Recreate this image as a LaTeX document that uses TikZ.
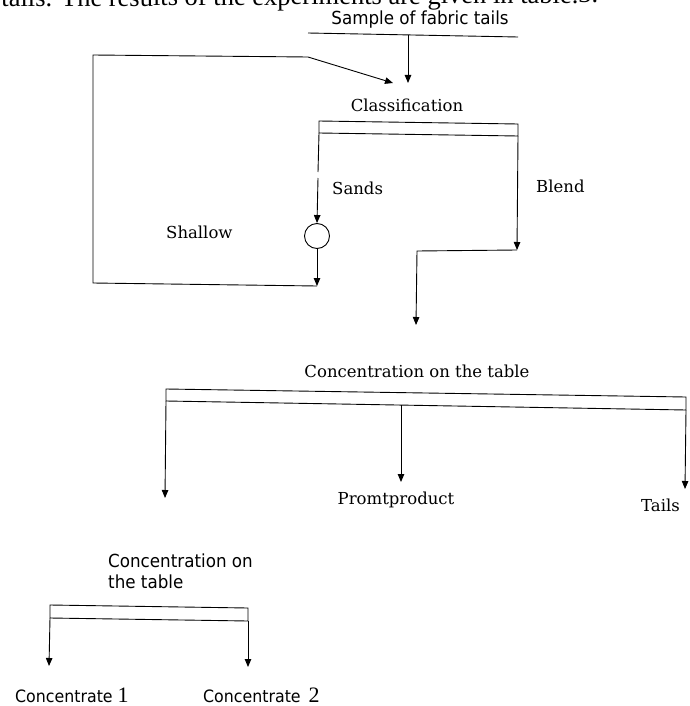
\documentclass[tikz,border=0pt]{standalone}
\usepackage{fontspec}
\setmainfont{DejaVu Serif}
\setsansfont{DejaVu Sans}[FakeStretch=0.93]
\newfontfamily\pagefont{Liberation Serif}
\usetikzlibrary{arrows.meta,positioning}
\tikzset{every picture/.style={line width=0.9pt}}
\tikzset{
  flow/.style={-{Triangle[length=8pt,width=6.5pt]}},
  lbl/.style={inner sep=0.75pt,font=\fontsize{16.5}{20}\selectfont},
  slbl/.style={inner sep=0.75pt,font=\sffamily\fontsize{18}{21}\selectfont}
}

\begin{document}
\begin{tikzpicture}[x=1pt,y=1pt,yscale=-1,xscale=1]
\useasboundingbox (0,0) rectangle (689,706);

%Page text, cut off at the top
\node[anchor=base west,inner sep=0pt,rotate=0.4,font=\pagefont\fontsize{26.5}{30}\selectfont] (pagetext) at (1,7) {tails. The results of the experiments are given in table.3.};

%Feed
\node[slbl] (sample) at (420,20) {Sample of fabric tails};
\coordinate (feedL) at (308,33);
\coordinate (feedR) at (518,37);
\coordinate (feedM) at (408,35);
\coordinate (feedE) at (408,83);
\draw (feedL) -- (feedR);
\draw[flow] (feedM) -- (feedE);

%Classification
\node[lbl] (classif) at (407,105) {Classification};
\coordinate (clsTL) at (319,121);
\coordinate (clsTR) at (518,124);
\coordinate (clsBR) at (518,136);
\coordinate (clsBL) at (319,133);
\draw (clsTL) -- (clsTR) -- (clsBR) -- (clsBL) -- cycle;

%Sands
\node[lbl,anchor=west] (sands) at (331,188) {Sands};
\coordinate (sandsA) at (318,172);
\coordinate (sandsB) at (318,178);
\draw (clsBL) -- (sandsA);
\node[circle,draw,minimum size=25pt,inner sep=0pt] (hydro) at (317,236) {};
\draw[flow] (sandsB) -- (hydro.north);

%Shallow, back to classification
\node[lbl,anchor=west] (shallow) at (165,232) {Shallow};
\coordinate (retA) at (317,286);
\coordinate (retB) at (93,283);
\coordinate (retC) at (93,55);
\coordinate (retD) at (308,57);
\coordinate (retE) at (393,83);
\draw[flow] (hydro.south) -- (retA);
\draw[flow] (retA) -- (retB) -- (retC) -- (retD) -- (retE);

%Blend
\node[lbl,anchor=west] (blend) at (535,186) {Blend};
\coordinate (blendA) at (517,250);
\coordinate (blendB) at (417,251);
\coordinate (blendC) at (416,325);
\draw[flow] (clsBR) -- (blendA);
\draw[flow] (blendA) -- (blendB) -- (blendC);

%Concentration on the table
\node[lbl] (conc) at (417,371) {Concentration on the table};
\coordinate (bigTL) at (166,389);
\coordinate (bigTR) at (686,397);
\coordinate (bigBR) at (686,410);
\coordinate (bigBL) at (166,401);
\draw (bigTL) -- (bigTR) -- (bigBR) -- (bigBL) -- cycle;
\coordinate (bigM) at (401,405);
\coordinate (bigLE) at (165,498);
\coordinate (bigME) at (401,482);
\coordinate (bigRE) at (685,489);
\draw[flow] (bigBL) -- (bigLE);
\draw[flow] (bigM) -- (bigME);
\draw[flow] (bigBR) -- (bigRE);
\node[lbl] (promt) at (396,500) {Promtproduct};
\node[lbl,anchor=west] (tails) at (640,505) {Tails};

%Second concentration
\node[slbl,anchor=west,align=left] (conc2) at (107,571) {Concentration on\\the table};
\coordinate (smTL) at (50,605);
\coordinate (smTR) at (248,608);
\coordinate (smBR) at (248,621);
\coordinate (smBL) at (50,618);
\draw (smTL) -- (smTR) -- (smBR) -- (smBL) -- cycle;
\coordinate (smLE) at (49,666);
\coordinate (smRE) at (248,667);
\draw[flow] (smBL) -- (smLE);
\draw[flow] (smBR) -- (smRE);
\node[slbl,anchor=base west,font=\sffamily\fontsize{17}{20}\selectfont] (concA) at (14,702) {Concentrate {\pagefont\fontsize{22}{22}\selectfont 1}};
\node[slbl,anchor=base west,font=\sffamily\fontsize{17}{20}\selectfont] (concB) at (202,702) {Concentrate \,{\pagefont\fontsize{22}{22}\selectfont 2}};

\end{tikzpicture}
\end{document}
